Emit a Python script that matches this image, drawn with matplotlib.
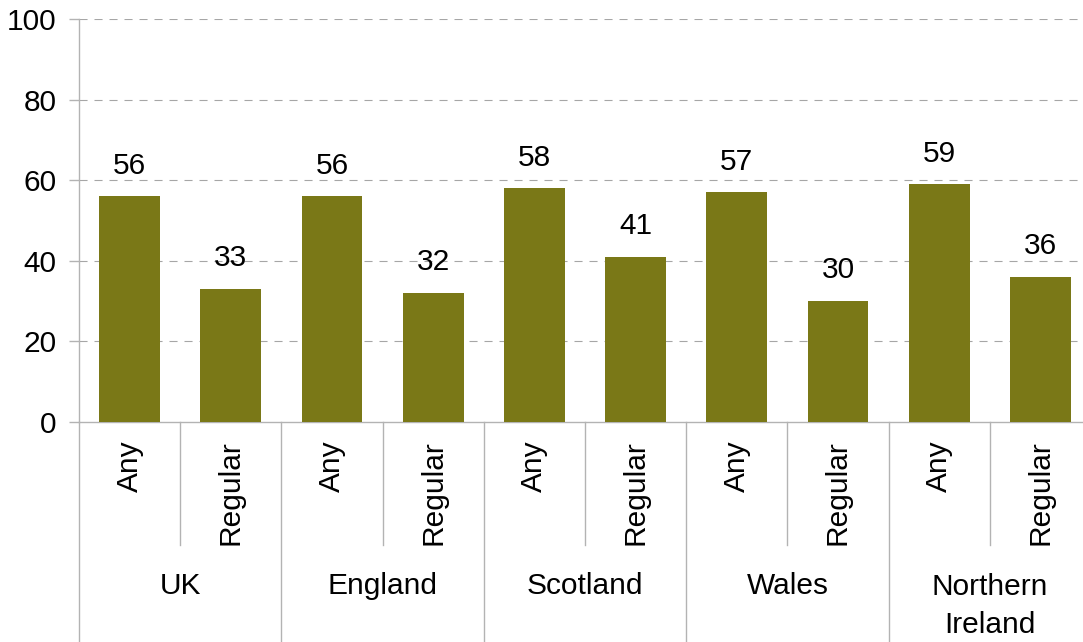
import matplotlib
matplotlib.use("Agg")
import matplotlib.pyplot as plt
import matplotlib.transforms as mtransforms

plt.rcParams['font.family'] = ['Liberation Sans', 'DejaVu Sans']
plt.rcParams['lines.scale_dashes'] = False

regions = ["UK", "England", "Scotland", "Wales", "Northern\nIreland"]
measures = ["Any", "Regular"]
any_values = [56, 56, 58, 57, 59]
regular_values = [33, 32, 41, 30, 36]
y_ticks = [0, 20, 40, 60, 80, 100]

bar_color = "#7A7817"
grid_color = "#A6A6A6"
line_color = "#B3B3B3"
fs = 21.5

values = []
labels = []
for a, r in zip(any_values, regular_values):
    values += [a, r]
    labels += measures
x = list(range(len(values)))

fig = plt.figure(figsize=(10.83, 6.42), dpi=100)
ax = fig.add_axes([0.0729, 0.3427, 0.9345, 0.6277])

ax.bar(x, values, width=0.6, color=bar_color, zorder=3)
for xi, v in zip(x, values):
    ax.annotate(str(v), (xi, v), xytext=(0, 12), textcoords="offset points",
                ha="center", va="bottom", fontsize=fs, zorder=4)

ax.set_xlim(-0.5, len(values) - 0.5)
ax.set_ylim(0, 100)
ax.set_yticks(y_ticks)
ax.tick_params(axis="y", length=7, width=1, color=line_color, labelsize=fs, pad=9)
ax.set_xticks([])
for yt in y_ticks[1:]:
    ax.axhline(yt, color=grid_color, lw=0.8, dashes=(5.8, 5.0), zorder=1)

for side in ["top", "right"]:
    ax.spines[side].set_visible(False)
ax.spines["left"].set_color(line_color)
ax.spines["bottom"].set_color(line_color)
ax.spines["left"].set_linewidth(1.0)
ax.spines["bottom"].set_linewidth(1.0)

trans = mtransforms.blended_transform_factory(ax.transData, ax.transAxes)

# Measure labels beneath each bar
for xi, lab in zip(x, labels):
    ax.text(xi, -0.045, lab, rotation=90, ha="center", va="top",
            fontsize=fs, transform=trans)

# Separators between measures and between regions
for g in range(len(regions)):
    inner = 2 * g + 0.5
    ax.plot([inner, inner], [0, -0.305], color=line_color, lw=1.0,
            transform=trans, clip_on=False)
for g in range(len(regions) + 1):
    outer = 2 * g - 0.5
    ax.plot([outer, outer], [0, -0.56], color=line_color, lw=1.0,
            transform=trans, clip_on=False)

# Region labels
for g, reg in enumerate(regions):
    ycen = -0.406 if "\n" not in reg else -0.456
    ax.text(2 * g + 0.5, ycen, reg, ha="center", va="center", fontsize=fs,
            linespacing=1.45, transform=trans)

fig.savefig("out.png", dpi=100)
